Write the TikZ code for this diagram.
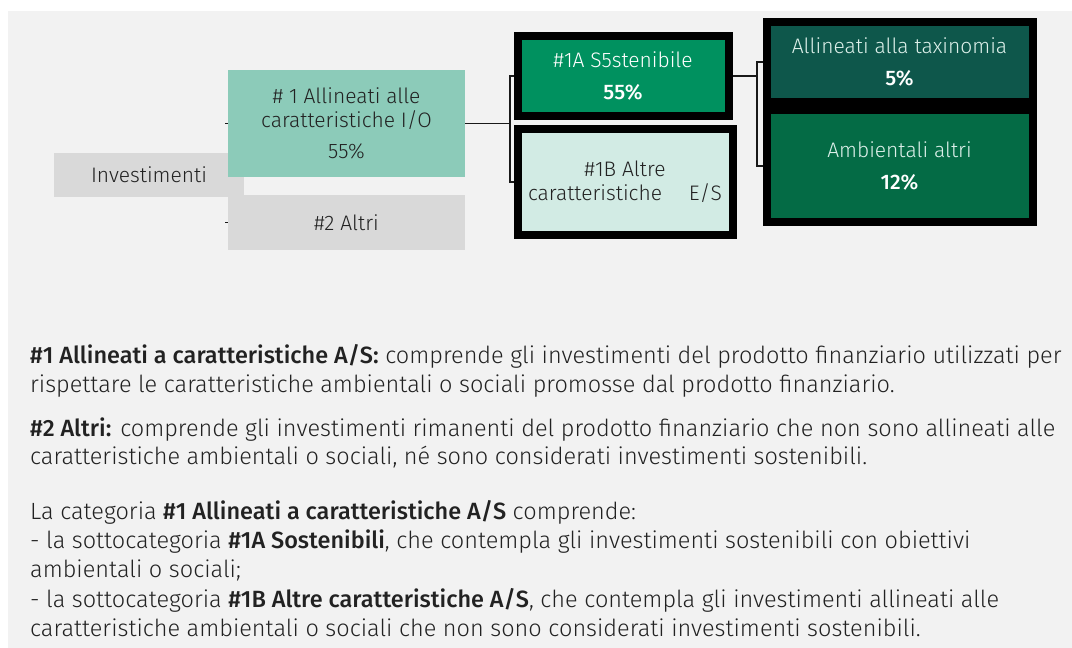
\documentclass[tikz,border=0pt]{standalone}
\usepackage{fontspec}
\setmainfont{Fira Sans}[UprightFont=* Light, BoldFont=* Medium]
\usepackage{tikz}
\usetikzlibrary{positioning}

\definecolor{bggray}{HTML}{F2F2F2}
\definecolor{boxgray}{HTML}{D9D9D9}
\definecolor{tealI}{HTML}{8CCBB9}
\definecolor{greenA}{HTML}{00915F}
\definecolor{mintB}{HTML}{D2EBE4}
\definecolor{taxgreen}{HTML}{0E574B}
\definecolor{ambgreen}{HTML}{046B45}
\definecolor{lighttxt}{HTML}{DDF0EA}
\definecolor{textdark}{HTML}{222222}

\begin{document}
\begin{tikzpicture}
		[x=1pt,y=-1pt,every node/.style={font=\fontsize{21}{24}\selectfont,text=textdark,align=center,inner sep=0pt},
		 flatbox/.style={minimum width=#1,minimum height=44},
		 framebox/.style={draw=black,line width=8pt},
		 bodyline/.style={anchor=base west,align=left,font=\fontsize{23.5}{29}\selectfont},
		 link/.style={draw=black!90,line width=1.6pt}]
		\useasboundingbox (0,0) rectangle (1072,648);
		\fill[white] (0,0) rectangle (1072,648);
		\fill[bggray] (8,11) rectangle (1072,648);
		
		% tree
		\node[flatbox=190,fill=boxgray,minimum height=44] (inv) at (149,175) {Investimenti};
		\node[flatbox=237,fill=tealI,minimum height=107] (p1) at (346.5,123.5) {\# 1 Allineati alle\\caratteristiche I/O\\[7pt]55\%};
		\node[flatbox=237,fill=boxgray,minimum height=55] (p2) at (346.5,222.5) {\#2 Altri};
		\node[framebox,fill=greenA,minimum width=211,minimum height=80,text=white] (a1) at (623,76) {\#1A S5stenibile\\[8pt]\textbf{55\%}};
		\node[framebox,fill=mintB,minimum width=215,minimum height=106] (b1b) at (625,182) {\#1B Altre\\caratteristiche\quad\ E/S};
		\node[framebox,fill=taxgreen,minimum width=266,minimum height=80,text=lighttxt] (tax) at (899.5,62) {Allineati alla taxinomia\\[8pt]{\color{white}\textbf{5\%}}};
		\node[framebox,fill=ambgreen,minimum width=266,minimum height=112,text=lighttxt] (amb) at (899.5,166) {Ambientali altri\\[8pt]{\color{white}\textbf{12\%}}};
		
		\coordinate (s1) at (225,123.5);
		\coordinate (s2) at (225,222.5);
		\coordinate (b1) at (510,123.5);
		\coordinate (b2) at (757,76);
		\draw[link] (s1) -- (p1.west);
		\draw[link] (s2) -- (p2.west);
		\draw[link] (p1.east) -- (b1);
		\draw[link] (a1.west) -| (b1) |- (b1b.west);
		\draw[link] (a1.east) -- (b2);
		\draw[link] (tax.west) -| (b2) |- (amb.west);
		
		% notes
		\node[bodyline] (t1) at (30,363) {\textbf{\#1 Allineati a caratteristiche A/S:} comprende gli investimenti del prodotto finanziario utilizzati per};
		\node[bodyline] (t2) at (30,392) {rispettare le caratteristiche ambientali o sociali promosse dal prodotto finanziario.};
		\node[bodyline] (t3) at (30,436) {\textbf{\#2 Altri:} comprende gli investimenti rimanenti del prodotto finanziario che non sono allineati alle};
		\node[bodyline] (t4) at (30,464) {caratteristiche ambientali o sociali, né sono considerati investimenti sostenibili.};
		\node[bodyline] (t5) at (30,519) {La categoria \textbf{\#1 Allineati a caratteristiche A/S} comprende:};
		\node[bodyline] (t6) at (30,548) {- la sottocategoria \textbf{\#1A Sostenibili}, che contempla gli investimenti sostenibili con obiettivi};
		\node[bodyline] (t7) at (30,577) {ambientali o sociali;};
		\node[bodyline] (t8) at (30,607) {- la sottocategoria \textbf{\#1B Altre caratteristiche A/S}, che contempla gli investimenti allineati alle};
		\node[bodyline] (t9) at (30,636) {caratteristiche ambientali o sociali che non sono considerati investimenti sostenibili.};
		\end{tikzpicture}
\end{document}
